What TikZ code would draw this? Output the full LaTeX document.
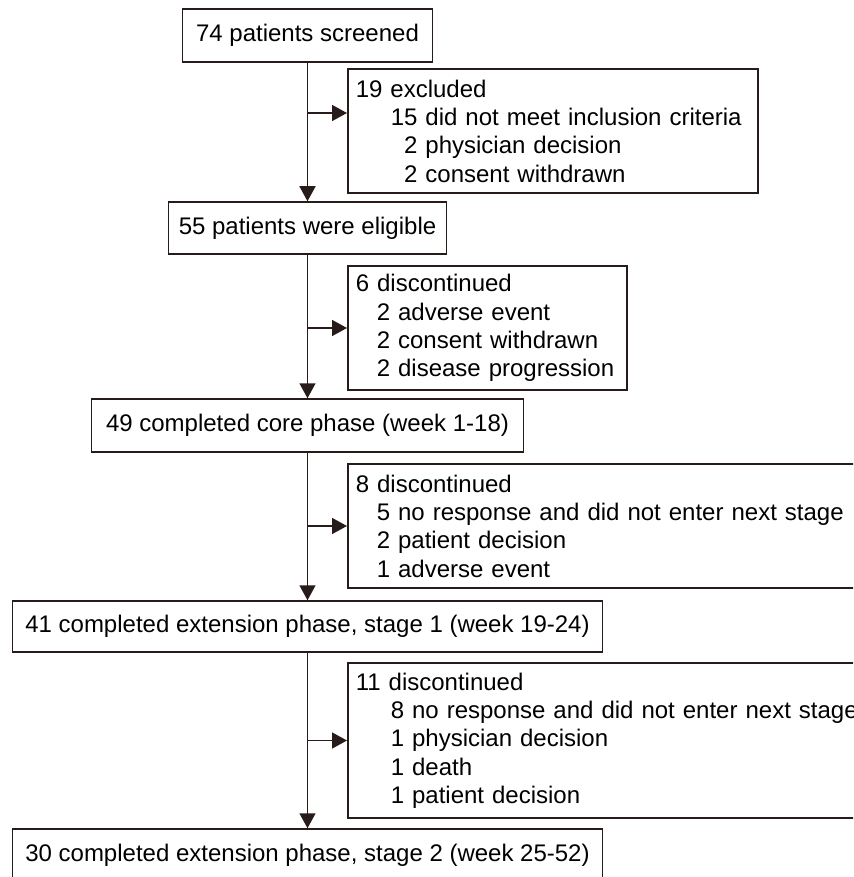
\documentclass[tikz,border=0pt]{standalone}
\usepackage{fontspec}
\setmainfont{Liberation Sans}
\usepackage{xcolor}
\usetikzlibrary{arrows.meta, positioning}

\definecolor{flowline}{RGB}{40,28,26}

\begin{document}
\begin{tikzpicture}[
    x=0.5pt, y=-0.5pt,
    font=\fontsize{12}{14.15}\selectfont,
    mainbox/.style={draw=flowline, line width=0.75pt, align=center, inner sep=0pt, minimum width=#1, minimum height=26pt},
    sidebox/.style={draw=flowline, line width=0.75pt, anchor=west, align=left, inner xsep=4pt, inner ysep=0pt, text width=#1, minimum height=62pt},
    arrow/.style={-{Triangle[length=7.5pt, width=8pt]}, line width=0.75pt, draw=flowline, fill=flowline}
]

\path[use as bounding box, clip] (0,0) rectangle (853,877);

% === MAIN COLUMN ===
\node[mainbox=125pt, minimum height=26.5pt] (screened) at (307.5, 35.5) {74 patients screened};
\node[mainbox=139pt] (eligible) at (307.5, 228) {55 patients were eligible};
\node[mainbox=216pt, minimum height=26.5pt] (core) at (307.5, 425.5) {49 completed core phase (week 1-18)};
\node[mainbox=295pt, minimum height=25.5pt] (stageone) at (307.5, 626.5) {41 completed extension phase, stage 1 (week 19-24)};
\node[mainbox=295pt] (stagetwo) at (307.5, 855) {30 completed extension phase, stage 2 (week 25-52)};

% === SIDE BOXES ===
\node[sidebox=197pt] (excluded) at (347, 131) {19 excluded\\%
    \hspace*{17.5pt}15 did not meet inclusion criteria\\%
    \hspace*{17.5pt}\phantom{1}2 physician decision\\%
    \hspace*{17.5pt}\phantom{1}2 consent withdrawn};
\node[sidebox=131.5pt] (discA) at (347, 328) {6 discontinued\\%
    \hspace*{10.5pt}2 adverse event\\%
    \hspace*{10.5pt}2 consent withdrawn\\%
    \hspace*{10.5pt}2 disease progression};
\node[sidebox=259pt] (discB) at (347, 526) {8 discontinued\\%
    \hspace*{10.5pt}5 no response and did not enter next stage\\%
    \hspace*{10.5pt}2 patient decision\\%
    \hspace*{10.5pt}1 adverse event};
\node[sidebox=259pt, minimum height=77.5pt] (discC) at (347, 740.5) {11 discontinued\\%
    \hspace*{17.5pt}8 no response and did not enter next stage\\%
    \hspace*{17.5pt}1 physician decision\\%
    \hspace*{17.5pt}1 death\\%
    \hspace*{17.5pt}1 patient decision};

% === ARROWS ===
% Main flow
\draw[arrow] (screened.south) -- (eligible.north);
\draw[arrow] (eligible.south) -- (core.north);
\draw[arrow] (core.south) -- (stageone.north);
\draw[arrow] (stageone.south) -- (stagetwo.north);

% Branches to the side
\coordinate (exin) at ([yshift=9pt]excluded.west);
\draw[arrow] (screened.south |- exin) -- (exin);
\draw[arrow] (eligible.south |- discA.west) -- (discA.west);
\draw[arrow] (core.south |- discB.west) -- (discB.west);
\draw[arrow] (stageone.south |- discC.west) -- (discC.west);

\end{tikzpicture}
\end{document}
